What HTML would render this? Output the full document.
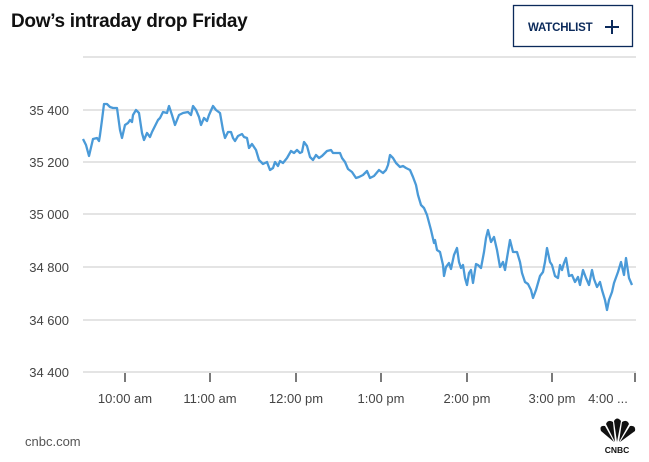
<!DOCTYPE html>
<html><head><meta charset="utf-8"><style>
body{margin:0;background:#fff;width:649px;height:457px;overflow:hidden;font-family:"Liberation Sans",sans-serif;}
</style></head><body>
<svg width="649" height="457" xmlns="http://www.w3.org/2000/svg">
<text x="11" y="27" font-size="19" font-weight="bold" fill="#111" font-family="Liberation Sans" letter-spacing="-0.3">Dow’s intraday drop Friday</text>
<rect x="513.5" y="5.5" width="119" height="41" fill="none" stroke="#0b2a5b" stroke-width="1.3"/>
<text x="528" y="31" font-size="11.5" font-weight="bold" fill="#0b2a5b" font-family="Liberation Sans" letter-spacing="-0.2">WATCHLIST</text>
<path d="M605 27h14M612 20v14" stroke="#0b2a5b" stroke-width="2"/>
<g stroke="#d3d3d3" stroke-width="1.2">
<line x1="83" x2="636" y1="57" y2="57"/><line x1="83" x2="636" y1="110" y2="110"/><line x1="83" x2="636" y1="162" y2="162"/><line x1="83" x2="636" y1="214" y2="214"/><line x1="83" x2="636" y1="267" y2="267"/><line x1="83" x2="636" y1="320" y2="320"/><line x1="83" x2="636" y1="372" y2="372"/>
</g>
<g font-size="13" fill="#444" font-family="Liberation Sans" text-anchor="end">
<text x="69" y="115">35 400</text><text x="69" y="167">35 200</text><text x="69" y="219">35 000</text><text x="69" y="272">34 800</text><text x="69" y="325">34 600</text><text x="69" y="377">34 400</text>
</g>
<g stroke="#222" stroke-width="1.2">
<line x1="125" x2="125" y1="373" y2="382"/><line x1="210" x2="210" y1="373" y2="382"/><line x1="296" x2="296" y1="373" y2="382"/><line x1="381" x2="381" y1="373" y2="382"/><line x1="467" x2="467" y1="373" y2="382"/><line x1="552" x2="552" y1="373" y2="382"/><line x1="635" x2="635" y1="373" y2="382"/>
</g>
<g font-size="13" fill="#444" font-family="Liberation Sans" text-anchor="middle">
<text x="125" y="403">10:00 am</text><text x="210" y="403">11:00 am</text><text x="296" y="403">12:00 pm</text><text x="381" y="403">1:00 pm</text><text x="467" y="403">2:00 pm</text><text x="552" y="403">3:00 pm</text><text x="608" y="403">4:00 ...</text>
</g>
<path fill="none" stroke="#4a9ad8" stroke-width="2.3" stroke-linejoin="round" d="M83,139 L86,145 L89,156 L93,139 L97,138 L99,141 L100,135 L102,120 L104,104 L107,104 L110,107 L113,108 L117,108 L120,130 L122,138 L125,125 L128,123 L130,120 L132,122 L133,115 L136,110 L139,113 L142,133 L144,140 L147,133 L150,137 L152,132 L155,126 L158,120 L160,118 L163,112 L167,113 L169,106 L172,115 L175,125 L179,115 L183,113 L188,112 L191,115 L193,106 L196,110 L199,117 L201,125 L204,118 L207,121 L209,115 L213,106 L216,110 L220,113 L223,130 L225,138 L228,132 L231,132 L233,138 L235,141 L238,136 L242,134 L244,137 L247,138 L249,148 L252,144 L256,150 L259,160 L263,164 L267,162 L270,170 L273,168 L275,162 L278,166 L280,161 L283,163 L287,158 L291,151 L294,153 L297,150 L300,153 L302,152 L304,142 L307,146 L310,157 L313,160 L316,155 L319,158 L322,156 L327,151 L331,150 L333,153 L337,153 L340,153 L342,158 L345,162 L348,169 L352,172 L356,178 L359,177 L363,175 L367,171 L370,178 L374,176 L379,170 L383,173 L386,170 L388,165 L390,155 L393,158 L396,163 L400,167 L403,166 L406,168 L410,170 L413,177 L416,185 L418,195 L421,205 L424,208 L427,215 L431,230 L434,243 L435,240 L437,250 L440,252 L443,265 L444,276 L446,267 L449,263 L451,269 L454,255 L457,248 L459,262 L461,268 L463,265 L465,278 L467,285 L469,273 L471,270 L473,283 L476,264 L478,265 L481,268 L484,252 L486,238 L488,230 L491,242 L494,237 L497,250 L500,267 L503,262 L505,270 L507,258 L510,240 L513,252 L517,252 L520,262 L522,273 L525,282 L528,284 L531,290 L533,298 L536,290 L540,276 L543,272 L545,262 L547,248 L550,262 L552,265 L555,276 L558,278 L560,265 L562,270 L564,263 L566,258 L569,276 L572,275 L575,282 L578,277 L580,285 L583,270 L586,278 L589,285 L592,270 L594,279 L597,287 L600,282 L602,290 L605,300 L607,310 L609,300 L612,292 L614,283 L618,272 L621,262 L624,275 L626,258 L629,278 L632,285"/>
<text x="25" y="446" font-size="13" fill="#555" font-family="Liberation Sans">cnbc.com</text>
<g fill="#111">
<path d="M614 442 L601 431 Q599 425 605 426 Z"/><path d="M615 442 L606 424 Q608 419 613 422 Z"/><path d="M617 442 L614 421 Q617 416 621 421 Z"/><path d="M619 442 L622 422 Q627 419 629 424 Z"/><path d="M620 442 L630 426 Q636 425 635 431 Z"/>
<text x="617" y="453" font-size="8.5" font-weight="bold" text-anchor="middle" font-family="Liberation Sans">CNBC</text>
</g>
</svg>
</body></html>
